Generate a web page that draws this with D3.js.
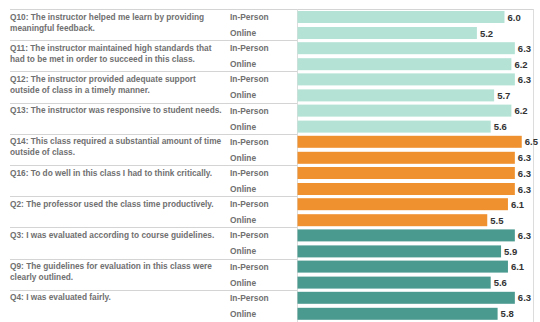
<!DOCTYPE html>
<html>
<head>
<meta charset="utf-8">
<script src="https://cdn.jsdelivr.net/npm/d3@7"></script>
<style>
  html, body { margin: 0; padding: 0; background: #fff; }
  svg { display: block; }
</style>
</head>
<body>
<svg id="chart" width="540" height="322"></svg>
<script>
// survey items, already broken into display lines
const questions = [
  ["Q10: The instructor helped me learn by providing", "meaningful feedback."],
  ["Q11: The instructor maintained high standards that", "had to be met in order to succeed in this class."],
  ["Q12: The instructor provided adequate support", "outside of class in a timely manner."],
  ["Q13: The instructor was responsive to student needs."],
  ["Q14: This class required a substantial amount of time", "outside of class."],
  ["Q16: To do well in this class I had to think critically."],
  ["Q2: The professor used the class time productively."],
  ["Q3: I was evaluated according to course guidelines."],
  ["Q9: The guidelines for evaluation in this class were", "clearly outlined."],
  ["Q4: I was evaluated fairly."]
];
const questionIds = ["Q10", "Q11", "Q12", "Q13", "Q14", "Q16", "Q2", "Q3", "Q9", "Q4"];
const groups = ["instructor", "instructor", "instructor", "instructor", "workload", "workload", "workload", "evaluation", "evaluation", "evaluation"];
const modes = ["In-Person", "Online"];
const inPerson = [6.0, 6.3, 6.3, 6.2, 6.5, 6.3, 6.1, 6.3, 6.1, 6.3];
const online = [5.2, 6.2, 5.7, 5.6, 6.3, 6.3, 5.5, 5.9, 5.6, 5.8];

const groupColor = d3.scaleOrdinal()
  .domain(["instructor", "workload", "evaluation"])
  .range(["#b4e3d5", "#f0912f", "#4b9a90"]);

const svg = d3.select("#chart");

const marginLeft = 10, barLeft = 297, panelRight = 533, marginTop = 9;

const y = d3.scaleBand().domain(questionIds).range([marginTop, marginTop + 31.2 * questionIds.length]);
const yMode = d3.scaleBand().domain(modes).range([2, 30]).paddingInner(0.25);
const x = d3.scaleLinear().domain([0, 7]).range([barLeft + 0.5, barLeft + 0.5 + 7 * 34.5]);

const rows = [];
questionIds.forEach((q, i) => {
  rows.push({ q: q, mode: "In-Person", value: inPerson[i], group: groups[i] });
  rows.push({ q: q, mode: "Online", value: online[i], group: groups[i] });
});

// frame: top rule, panel edges and group separators
svg.append("line")
  .attr("x1", marginLeft).attr("x2", panelRight)
  .attr("y1", marginTop + 0.5).attr("y2", marginTop + 0.5)
  .attr("stroke", "#d4d4d4");
svg.append("g").selectAll("line")
  .data(questionIds.slice(1))
  .join("line")
  .attr("x1", marginLeft).attr("x2", barLeft)
  .attr("y1", d => Math.round(y(d)) + 0.5)
  .attr("y2", d => Math.round(y(d)) + 0.5)
  .attr("stroke", "#d4d4d4");
[barLeft, panelRight].forEach(px => {
  svg.append("line")
    .attr("x1", px + 0.5).attr("x2", px + 0.5)
    .attr("y1", marginTop).attr("y2", 322)
    .attr("stroke", "#dcdcdc");
});

const font = "'Liberation Sans', Arial, Helvetica, sans-serif";

// question labels
const qText = svg.append("g")
  .attr("font-family", font)
  .attr("font-size", 8.3)
  .attr("font-weight", "bold")
  .attr("fill", "#707070");
questions.forEach((lines, i) => {
  const t = qText.append("text")
    .attr("x", marginLeft)
    .attr("y", y(questionIds[i]) + 10.5);
  lines.forEach((ln, j) => {
    t.append("tspan").attr("x", marginLeft).attr("dy", j === 0 ? 0 : 11).text(ln);
  });
});

// mode labels
svg.append("g")
  .attr("font-family", font)
  .attr("font-size", 8.4)
  .attr("font-weight", "bold")
  .attr("fill", "#707070")
  .selectAll("text")
  .data(rows)
  .join("text")
  .attr("x", 230)
  .attr("y", d => y(d.q) + yMode(d.mode) + yMode.bandwidth() / 2 + 3)
  .text(d => d.mode);

// bars
svg.append("g").selectAll("rect")
  .data(rows)
  .join("rect")
  .attr("x", x(0))
  .attr("y", d => y(d.q) + yMode(d.mode))
  .attr("width", d => x(d.value) - x(0))
  .attr("height", yMode.bandwidth())
  .attr("fill", d => groupColor(d.group));

// value labels
svg.append("g")
  .attr("font-family", font)
  .attr("font-size", 9.5)
  .attr("font-weight", "bold")
  .attr("fill", "#333")
  .selectAll("text")
  .data(rows)
  .join("text")
  .attr("x", d => x(d.value) + 3)
  .attr("y", d => y(d.q) + yMode(d.mode) + yMode.bandwidth() / 2 + 3.5)
  .text(d => d.value.toFixed(1));
</script>
</body>
</html>
